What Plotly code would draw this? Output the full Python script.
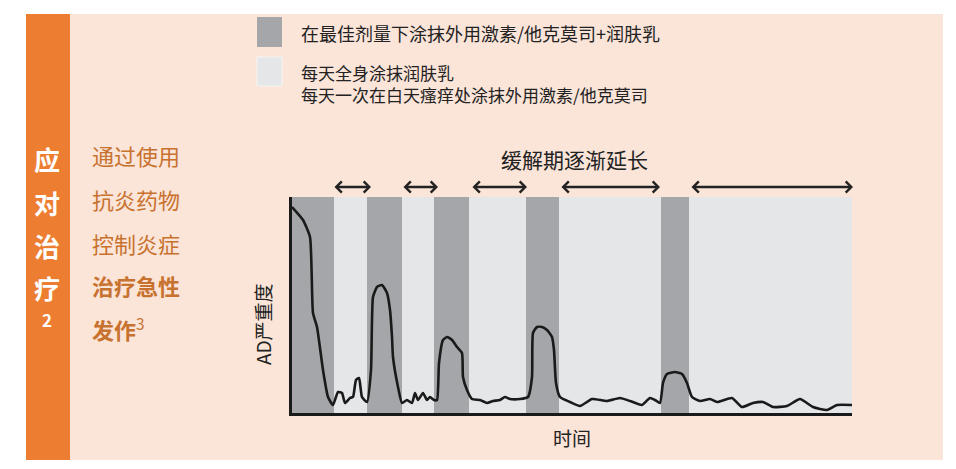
import plotly.graph_objects as go

# 页面 body 自带 8px 边距，图本身缩小 8px
W, H = 948, 461
OFF = 8
FONT = "Noto Sans CJK SC"

# 时间轴与 AD 严重度
time = [0, 11, 18, 21, 25, 31, 36, 41, 46, 50, 53, 58, 61, 64, 67, 70, 75, 79, 81, 85,
        90, 95, 98, 100, 101, 106, 110, 115, 120, 123, 126, 131, 135, 138, 142, 145,
        147, 151, 155, 160, 165, 170, 171, 175, 180, 188, 195, 201, 208, 213, 218, 228,
        236, 240, 241, 245, 250, 255, 260, 262, 264, 268, 278, 288, 300, 315, 328, 338,
        350, 358, 363, 368, 371, 375, 383, 390, 395, 400, 408, 418, 425, 440, 450, 461,
        471, 481, 495, 508, 521, 535, 545, 560]
severity = [206, 193, 176, 100, 86, 43, 16, 8, 21, 20, 10, 15, 16, 33, 35, 16, 11, 43, 116, 126,
            128, 120, 103, 76, 56, 26, 10, 13, 10, 20, 13, 20, 13, 16, 13, 13,
            50, 73, 76, 73, 66, 60, 36, 23, 14, 13, 10, 12, 13, 16, 14, 14,
            16, 36, 80, 86, 86, 83, 76, 63, 30, 16, 11, 7, 14, 12, 15, 12,
            8, 15, 13, 10, 30, 39, 41, 39, 30, 16, 12, 14, 11, 15, 6, 10,
            11, 6, 7, 14, 6, 3, 8, 8]

# 治疗阶段（深色=强化治疗，浅色=维持期）
phase_edges = [0, 42, 75, 110, 142, 177, 234, 267, 369, 397, 560]
phase_kind = ["dark", "light", "dark", "light", "dark", "light", "dark", "light", "dark", "light"]

# 缓解期箭头
remission_start = [41, 110, 179, 268, 398]
remission_end = [79, 146, 235, 368, 561]

Y_TOP = 216

legend_dark = "在最佳剂量下涂抹外用激素/他克莫司+润肤乳"
legend_light = ["每天全身涂抹润肤乳", "每天一次在白天瘙痒处涂抹外用激素/他克莫司"]
side_lines = ["通过使用", "抗炎药物", "控制炎症", "<b>治疗急性</b>", "<b>发作</b><sup>3</sup>"]
bar_chars = ["应", "对", "治", "疗"]

COLORS = {"dark": "#a5a6aa", "light": "#e5e6e8"}
ORANGE = "#ed7d31"
PEACH = "#fbe4d8"
BROWN = "#c8722f"


def px(x):
    return (x - OFF) / W


def py(y):
    return 1 - (y - OFF) / H


fig = go.Figure()

centers = [(a + b) / 2 for a, b in zip(phase_edges[:-1], phase_edges[1:])]
widths = [b - a for a, b in zip(phase_edges[:-1], phase_edges[1:])]
fig.add_trace(go.Bar(
    x=centers, y=[Y_TOP] * len(centers), width=widths, base=0,
    marker=dict(color=[COLORS[k] for k in phase_kind], line_width=0),
    hoverinfo="skip", showlegend=False,
))
fig.add_trace(go.Scatter(
    x=time, y=severity, mode="lines",
    line=dict(color="#1a1a1a", width=2.6, shape="spline", smoothing=0.5),
    hoverinfo="skip", showlegend=False,
))

shapes = [
    # 背景
    dict(type="rect", xref="paper", yref="paper", x0=px(26), x1=px(943), y0=py(460), y1=py(14),
         fillcolor=PEACH, line_width=0, layer="below"),
    dict(type="rect", xref="paper", yref="paper", x0=px(26), x1=px(70), y0=py(460), y1=py(14),
         fillcolor=ORANGE, line_width=0, layer="below"),
    # 图例色块
    dict(type="rect", xref="paper", yref="paper", x0=px(257), x1=px(282), y0=py(47), y1=py(17),
         fillcolor=COLORS["dark"], line_width=0),
    dict(type="rect", xref="paper", yref="paper", x0=px(257), x1=px(282), y0=py(86), y1=py(57),
         fillcolor=COLORS["light"], line=dict(color="#f4f4f4", width=1)),
]

ann = []
for s, e in zip(remission_start, remission_end):
    ann.append(dict(x=e, y=py(187), xref="x", yref="paper", ax=s, ay=0, axref="x", ayref="pixel",
                    text="", showarrow=True, arrowhead=4, startarrowhead=4, arrowside="end+start",
                    arrowsize=0.9, startarrowsize=0.9, arrowwidth=2.4, arrowcolor="#222"))

ann.append(dict(x=px(574), y=py(159), text="缓解期逐渐延长", font=dict(size=21, color="#222")))
ann.append(dict(x=px(572), y=py(437), text="时间", font=dict(size=19, color="#222")))
ann.append(dict(x=px(262), y=py(324), text="AD严重度", textangle=-90, font=dict(size=19, color="#222")))

ann.append(dict(x=px(299), y=py(33), text=legend_dark, xanchor="left", font=dict(size=18, color="#222")))
ann.append(dict(x=px(299), y=py(83), text="<br>".join(legend_light), xanchor="left", align="left",
                font=dict(size=17, color="#222")))

for label, yy in zip(side_lines, [155, 199, 243, 285, 328]):
    ann.append(dict(x=px(90), y=py(yy), text=label, xanchor="left", font=dict(size=22, color=BROWN)))

for ch, yy in zip(bar_chars, [158, 202, 245, 287]):
    ann.append(dict(x=px(47), y=py(yy), text="<b>" + ch + "</b>", font=dict(size=26, color="white")))
ann.append(dict(x=px(47), y=py(319), text="<b>2</b>", font=dict(size=17, color="white")))

for a in ann:
    a.setdefault("xref", "paper")
    a.setdefault("yref", "paper")
    a.setdefault("showarrow", False)
    a.setdefault("xanchor", "center")
    a.setdefault("yanchor", "middle")

fig.update_layout(
    width=W, height=H, autosize=False,
    margin=dict(l=0, r=0, t=0, b=0),
    paper_bgcolor="white", plot_bgcolor=PEACH,
    font=dict(family=FONT),
    xaxis=dict(domain=[px(292), px(852)], range=[0, 560], showgrid=False, zeroline=False,
               showticklabels=False, ticks="", showline=True, linecolor="#1a1a1a", linewidth=3),
    yaxis=dict(domain=[py(413), py(197)], range=[0, Y_TOP], showgrid=False, zeroline=False,
               showticklabels=False, ticks="", showline=True, linecolor="#1a1a1a", linewidth=2.5),
    shapes=shapes, annotations=ann,
    bargap=0,
)

fig.write_html("out.html")
